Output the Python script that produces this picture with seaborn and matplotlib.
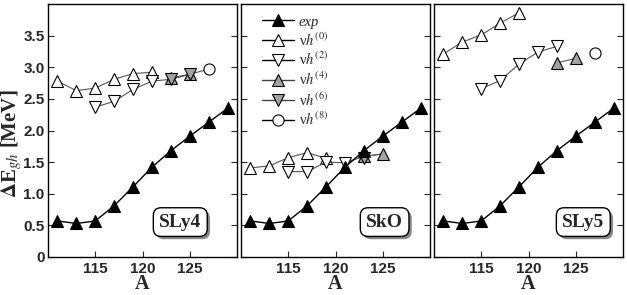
import numpy as np
import pandas as pd
import seaborn as sns
import matplotlib
matplotlib.use("Agg")
import matplotlib.pyplot as plt
from matplotlib.lines import Line2D
from matplotlib import patheffects

# ---------------- data ----------------
A_exp = [111, 113, 115, 117, 119, 121, 123, 125, 127, 129]
E_exp = [0.57, 0.53, 0.57, 0.81, 1.11, 1.42, 1.68, 1.91, 2.13, 2.35]

# SLy4
sly4_vh0_A = [111, 113, 115, 117, 119, 121]
sly4_vh0_E = [2.78, 2.63, 2.67, 2.81, 2.90, 2.92]
sly4_vh2_A = [115, 117, 119, 121]
sly4_vh2_E = [2.37, 2.46, 2.65, 2.78]
sly4_vh4_A = [123, 125]
sly4_vh4_E = [2.83, 2.89]
sly4_vh6_A = [123, 125]
sly4_vh6_E = [2.81, 2.89]
sly4_vh8_A = [127]
sly4_vh8_E = [2.97]

# SkO
sko_vh0_A = [111, 113, 115, 117, 119]
sko_vh0_E = [1.41, 1.44, 1.57, 1.65, 1.56]
sko_vh2_A = [115, 117, 119, 121]
sko_vh2_E = [1.35, 1.35, 1.50, 1.49]
sko_vh4_A = [123, 125]
sko_vh4_E = [1.59, 1.63]
sko_vh6_A = [123]
sko_vh6_E = [1.57]

# SLy5
sly5_vh0_A = [111, 113, 115, 117, 119]
sly5_vh0_E = [3.21, 3.40, 3.51, 3.70, 3.86]
sly5_vh2_A = [115, 117, 119, 121, 123]
sly5_vh2_E = [2.66, 2.79, 3.05, 3.24, 3.33]
sly5_vh4_A = [123, 125]
sly5_vh4_E = [3.07, 3.14]
sly5_vh8_A = [127]
sly5_vh8_E = [3.23]

panel_names = ["SLy4", "SkO", "SLy5"]
y_ticks = [0, 0.5, 1.0, 1.5, 2.0, 2.5, 3.0, 3.5]
y_ticklabels = ["0", "0.5", "1.0", "1.5", "2.0", "2.5", "3.0", "3.5"]
x_ticks = [115, 120, 125]
legend_labels = ["exp", "ν$h^{(0)}$", "ν$h^{(2)}$", "ν$h^{(4)}$", "ν$h^{(6)}$", "ν$h^{(8)}$"]

# ---------------- style ----------------
sns.set_style("ticks")
plt.rcParams["font.family"] = ["Liberation Serif", "DejaVu Serif"]
plt.rcParams["mathtext.fontset"] = "stix"

GREY_FILL = "#a3a3a3"
THEORY_LINE = "#555555"
styles = {
    "exp": dict(marker="^", markerfacecolor="black", color="black", lw=1.0),
    "vh0": dict(marker="^", markerfacecolor="white", color=THEORY_LINE, lw=0.8),
    "vh2": dict(marker="v", markerfacecolor="white", color=THEORY_LINE, lw=0.8),
    "vh4": dict(marker="^", markerfacecolor=GREY_FILL, color=THEORY_LINE, lw=0.8),
    "vh6": dict(marker="v", markerfacecolor=GREY_FILL, color=THEORY_LINE, lw=0.8),
    "vh8": dict(marker="o", markerfacecolor="white", color=THEORY_LINE, lw=0.8),
}
MS = 8.0

panels = [
    dict(vh0=(sly4_vh0_A, sly4_vh0_E), vh2=(sly4_vh2_A, sly4_vh2_E),
         vh4=(sly4_vh4_A, sly4_vh4_E), vh6=(sly4_vh6_A, sly4_vh6_E),
         vh8=(sly4_vh8_A, sly4_vh8_E),
         link=(sly4_vh2_A[-1:] + sly4_vh6_A + sly4_vh8_A,
               sly4_vh2_E[-1:] + sly4_vh6_E + sly4_vh8_E)),
    dict(vh0=(sko_vh0_A, sko_vh0_E), vh2=(sko_vh2_A, sko_vh2_E),
         vh4=(sko_vh4_A, sko_vh4_E), vh6=(sko_vh6_A, sko_vh6_E),
         link=(sko_vh2_A[-1:] + sko_vh4_A, sko_vh2_E[-1:] + sko_vh4_E)),
    dict(vh0=(sly5_vh0_A, sly5_vh0_E), vh2=(sly5_vh2_A, sly5_vh2_E),
         vh4=(sly5_vh4_A, sly5_vh4_E), vh8=(sly5_vh8_A, sly5_vh8_E)),
]

W, H = 627, 295
fig = plt.figure(figsize=(W / 100, H / 100), dpi=100)

lefts = [48, 241, 434]
pw = 189
top, bottom = 4, 257
label_x = [0.70, 0.76, 0.79]

tick_font = dict(family="Liberation Sans", weight="bold", size=11)

for i, (left, pdata) in enumerate(zip(lefts, panels)):
    ax = fig.add_axes([left / W, 1 - bottom / H, pw / W, (bottom - top) / H])
    ax.set_facecolor("white")
    if "link" in pdata:
        la, le = pdata["link"]
        sns.lineplot(x=la, y=le, ax=ax, color=THEORY_LINE, lw=0.8,
                     legend=False, sort=True, estimator=None)
    for key in ["vh0", "vh2", "vh4", "vh6", "vh8"]:
        if key not in pdata:
            continue
        a, e = pdata[key]
        st = styles[key]
        sns.lineplot(x=a, y=e, ax=ax, color=st["color"], lw=st["lw"],
                     marker=st["marker"], markersize=MS,
                     markerfacecolor=st["markerfacecolor"],
                     markeredgecolor="black", markeredgewidth=0.8,
                     legend=False, sort=True, estimator=None, zorder=3)
    sns.lineplot(x=A_exp, y=E_exp, ax=ax, color="black", lw=1.0,
                 marker="^", markersize=MS, markerfacecolor="black",
                 markeredgecolor="black", markeredgewidth=0.8,
                 legend=False, sort=True, estimator=None, zorder=4)

    ax.set_xlim(110, 130)
    ax.set_ylim(0, 4)
    ax.set_xticks(x_ticks)
    ax.set_xticklabels([str(t) for t in x_ticks], fontdict=tick_font)
    ax.set_yticks(y_ticks)
    if i == 0:
        ax.set_yticklabels(y_ticklabels, fontdict=tick_font)
    else:
        ax.set_yticklabels([])
    ax.set_xlabel("")
    ax.set_ylabel("")
    ax.tick_params(axis="y", direction="in", left=True, right=True,
                   length=4, width=0.8, pad=2.5)
    ax.tick_params(axis="x", direction="in", bottom=True, top=False,
                   length=4, width=0.8, pad=3.5)
    for s in ax.spines.values():
        s.set_visible(True)
        s.set_linewidth(1.0)
        s.set_color("black")

    t = ax.text(label_x[i], 0.138, panel_names[i], transform=ax.transAxes,
                ha="center", va="center", fontsize=14, fontweight="bold",
                family="Liberation Serif", zorder=6,
                bbox=dict(boxstyle="round,pad=0.3,rounding_size=0.4",
                          fc="white", ec="black", lw=1.0))
    t.get_bbox_patch().set_path_effects([
        patheffects.SimplePatchShadow(offset=(2, -2), shadow_rgbFace="#888888", alpha=1.0),
        patheffects.Normal()])

    fig.text((left + pw / 2) / W, 1 / H, "A", ha="center", va="bottom",
             fontsize=14.5, fontweight="bold", family="Liberation Serif")

    if i == 1:
        handles = []
        for key in ["exp", "vh0", "vh2", "vh4", "vh6", "vh8"]:
            st = styles[key]
            handles.append(Line2D([0], [0], color="black" if key in ("exp", "vh0", "vh2", "vh8") else "#444444",
                                  lw=1.0, marker=st["marker"], markersize=MS,
                                  markerfacecolor=st["markerfacecolor"],
                                  markeredgecolor="black", markeredgewidth=0.8))
        leg = ax.legend(handles, legend_labels, loc="upper left",
                        bbox_to_anchor=(0.11, 0.955), frameon=False,
                        fontsize=10.5, handlelength=2.2, handletextpad=0.35,
                        labelspacing=0.18, borderpad=0, borderaxespad=0)
        leg.get_texts()[0].set_fontstyle("italic")

fig.text(12 / W, 1 - 144 / H, r"$\mathbf{\Delta}$E$_{gh}$ [MeV]", rotation=90,
         ha="center", va="center", fontsize=15, fontweight="bold",
         family="Liberation Serif")

fig.savefig("out.png", dpi=100, facecolor="white")
